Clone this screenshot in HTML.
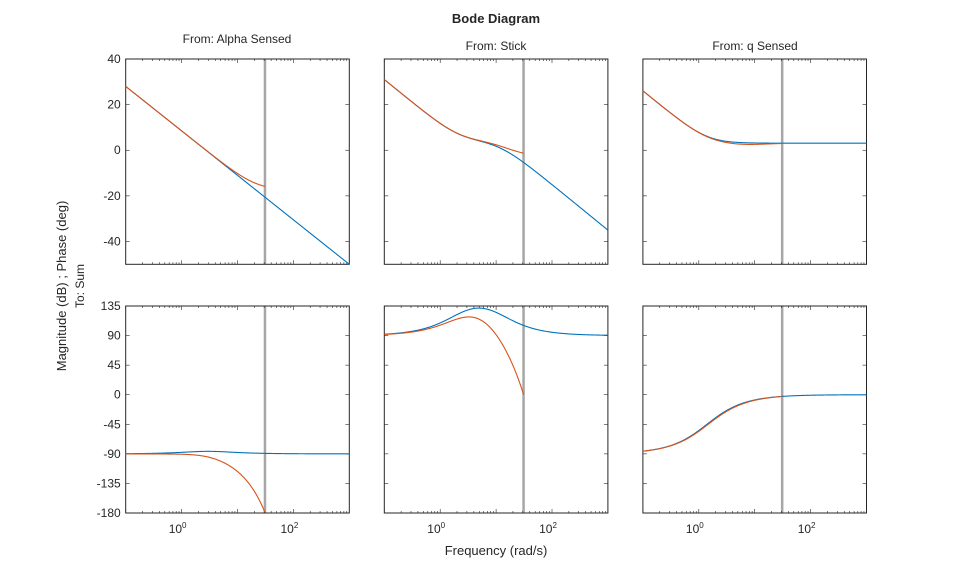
<!DOCTYPE html>
<html><head><style>
body{margin:0;background:#fff;}
svg text{font-family:"Liberation Sans",sans-serif;fill:#262626;}
</style></head><body>
<svg id="s" width="959" height="577" xmlns="http://www.w3.org/2000/svg">
<text x="496" y="23" font-size="13" font-weight="bold" text-anchor="middle">Bode Diagram</text>
<text x="237" y="43" font-size="12" text-anchor="middle">From: Alpha Sensed</text>
<text x="496" y="50" font-size="12" text-anchor="middle">From: Stick</text>
<text x="755" y="50" font-size="12" text-anchor="middle">From: q Sensed</text>
<text transform="translate(66,286) rotate(-90)" font-size="13" text-anchor="middle">Magnitude (dB) ; Phase (deg)</text>
<text transform="translate(84,286) rotate(-90)" font-size="12" text-anchor="middle">To: Sum</text>
<text x="496" y="555" font-size="13" text-anchor="middle">Frequency (rad/s)</text>
<g id="g"></g>
</svg>
<script>
var NS="http://www.w3.org/2000/svg",g=document.getElementById('g');
function el(t,a,txt){var e=document.createElementNS(NS,t);for(var k in a)e.setAttribute(k,a[k]);if(txt!==undefined)e.textContent=txt;g.appendChild(e);return e;}
var cols=[125.7,384.3,642.9],W=223.6;
var rows=[{t:59,h:205.3,min:-50,max:40,ticks:[40,20,0,-20,-40]},{t:306,h:207,min:-180,max:135,ticks:[135,90,45,0,-45,-90,-135,-180]}];
function X(c,lw){return cols[c]+(lw+1)/4*W;}
function Y(r,v){var R=rows[r];return R.t+(R.max-v)/(R.max-R.min)*R.h;}
var D=180/Math.PI;
function lg(x){return Math.log10(x);}
function at(x){return Math.atan(x)*D;}
function curve(c,r,f,b,col){var a=-1,d="";
 for(var i=0;i<=300;i++){var lw=a+(b-a)*i/300,w=Math.pow(10,lw);d+=(i?"L":"M")+X(c,lw).toFixed(2)+","+Y(r,f(w,lw)).toFixed(2);}
 el('path',{d:d,fill:'none',stroke:col,'stroke-width':1.1});}
var gl=Math.log10(31);
for(var r=0;r<2;r++)for(var c=0;c<3;c++){
 var R=rows[r],x0=cols[c];
 el('line',{x1:X(c,gl),x2:X(c,gl),y1:R.t,y2:R.t+R.h,stroke:'#a6a6a6','stroke-width':2.5});
 R.ticks.forEach(function(v){var y=Y(r,v);el('line',{x1:x0,x2:x0+4,y1:y,y2:y,stroke:'#262626','stroke-width':0.6});el('line',{x1:x0+W,x2:x0+W-4,y1:y,y2:y,stroke:'#262626','stroke-width':0.6});
  if(c==0)el('text',{x:x0-5,y:y+4,'font-size':12,'text-anchor':'end'},String(v));});
 for(var dd=-1;dd<3;dd++)for(var k=1;k<10;k++){var x=X(c,dd+Math.log10(k)),L=(k==1?4:2);
  el('line',{x1:x,x2:x,y1:R.t,y2:R.t+L,stroke:'#262626','stroke-width':0.6});el('line',{x1:x,x2:x,y1:R.t+R.h,y2:R.t+R.h-L,stroke:'#262626','stroke-width':0.6});}
 el('rect',{x:x0,y:R.t,width:W,height:R.h,fill:'none',stroke:'#262626','stroke-width':1});
 if(r==1){[0,2].forEach(function(e){var t=el('text',{x:X(c,e)-4,y:533,'font-size':12,'text-anchor':'middle'},"10");var s=document.createElementNS(NS,'tspan');s.setAttribute('dy',-5);s.setAttribute('font-size',8);s.textContent=e;t.appendChild(s);});}
}
var B="#0072bd",O="#d95319";
// col0
function m0(w,lw){return 8.5-19.5*lw;}
curve(0,0,m0,3,B);
curve(0,0,function(w,lw){return m0(w,lw)+10*lg(1+(w/22)*(w/22));},gl,O);
curve(0,1,function(w){return -90+at(w/2.8)-at(w/3.2);},3,B);
curve(0,1,function(w){return -90+at(w/2.8)-at(w/3.2)-2.9*w;},gl,O);
// col1
function m1(w,lw){return 11-20*lw+10*lg(1+(w/2.2)*(w/2.2))-10*lg(1+(w/11)*(w/11));}
function p1(w){return 90+at(w/2.2)-at(w/11);}
curve(1,0,m1,3,B);
curve(1,0,function(w,lw){return m1(w,lw)+10*lg(1+(w/25)*(w/25));},gl,O);
curve(1,1,p1,3,B);
curve(1,1,function(w){return p1(w)-3.4*w;},gl,O);
// col2
function m2(w){return 10*lg(1+(1.4/w)*(1.4/w))+3.1;}
function p2(w){return -at(1.4/w);}
curve(2,0,m2,3,B);
curve(2,0,function(w,lw){return m2(w)-0.7*Math.exp(-(lw-0.8)*(lw-0.8)/0.3);},gl,O);
curve(2,1,p2,3,B);
curve(2,1,function(w,lw){return p2(w)-1.5*Math.exp(-(lw-0.3)*(lw-0.3)/0.5);},gl,O);
</script>
</body></html>
